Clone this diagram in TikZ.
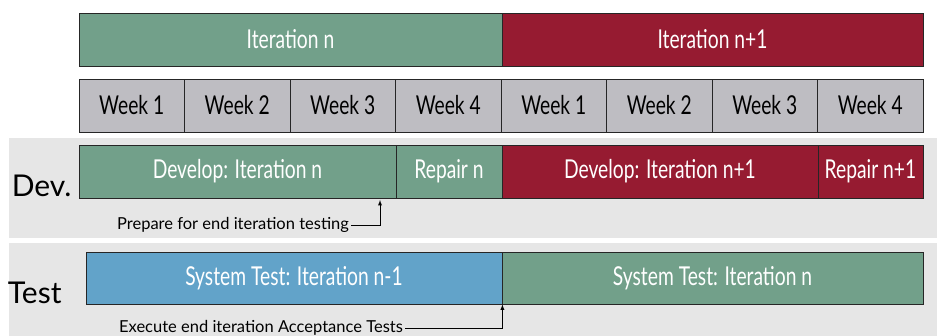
\documentclass[tikz,border=0pt]{standalone}
\usepackage{fontspec}
\setmainfont{Lato}
\newfontfamily\condfont{Lato}[FakeStretch=0.74]
\usepackage{tikz}
\usetikzlibrary{arrows}

\definecolor{itgreen}{HTML}{72A08A}
\definecolor{itred}{HTML}{961B31}
\definecolor{itblue}{HTML}{62A3C9}
\definecolor{weekgray}{HTML}{BEBDC2}
\definecolor{bandgray}{HTML}{E6E6E6}

\begin{document}
\begin{tikzpicture}[x=1pt,y=-1pt]
    \tikzset{bar/.style = {shape=rectangle, draw=black!85, line width=0.8pt, inner sep=0pt, text=white, minimum height=53pt, font=\condfont\fontsize{26}{26}\selectfont}}
    \tikzset{week/.style = {bar, fill=weekgray, text=black, minimum width=105.5pt}}
    \tikzset{row/.style = {font=\fontsize{30}{30}\selectfont, anchor=east}}
    \tikzset{note/.style = {font=\fontsize{16.5}{16.5}\selectfont, inner sep=2pt}}
    \tikzset{pointer/.style = {draw=black, line width=0.9pt, -latex}}

    \useasboundingbox (0,0) rectangle (939,336);

    % background bands
    \fill[bandgray] (9,138) rectangle (937,238);
    \fill[bandgray] (9,243) rectangle (937,336);

    % iterations
    \node[bar,fill=itgreen,minimum width=423pt] (itn) at (290.5,39.5) {Iteration n};
    \node[bar,fill=itred,minimum width=421pt] (itn1) at (712.5,39.5) {Iteration n+1};

    % weeks
    \node[week] (wk1) at (131.75,105.5) {Week 1};
    \node[week] (wk2) at (237.25,105.5) {Week 2};
    \node[week] (wk3) at (342.75,105.5) {Week 3};
    \node[week] (wk4) at (448.25,105.5) {Week 4};
    \node[week] (wk5) at (553.75,105.5) {Week 1};
    \node[week] (wk6) at (659.25,105.5) {Week 2};
    \node[week] (wk7) at (764.75,105.5) {Week 3};
    \node[week] (wk8) at (870.25,105.5) {Week 4};

    % development
    \node[row] (dev) at (75,186) {Dev.};
    \node[bar,fill=itgreen,minimum width=317pt] (devn) at (237.5,171.5) {Develop: Iteration n};
    \node[bar,fill=itgreen,minimum width=106pt] (repn) at (449,171.5) {Repair n};
    \node[bar,fill=itred,minimum width=316pt] (devn1) at (660,171.5) {Develop: Iteration n+1};
    \node[bar,fill=itred,minimum width=105pt] (repn1) at (870.5,171.5) {Repair n+1};

    % test
    \node[row] (test) at (65,293) {Test};
    \node[bar,fill=itblue,minimum width=416pt,minimum height=52pt] (stn1) at (294,278) {System Test: Iteration n-1};
    \node[bar,fill=itgreen,minimum width=421pt,minimum height=52pt] (stn) at (712.5,278) {System Test: Iteration n};

    % notes
    \node[note] (prep) at (233,225) {Prepare for end iteration testing};
    \coordinate (prepend) at (380,200);
    \draw[pointer] (prep.east) -| (prepend);

    \node[note] (exec) at (261,328) {Execute end iteration Acceptance Tests};
    \draw[pointer] (exec.east) -| (stn1.south east);
\end{tikzpicture}
\end{document}
